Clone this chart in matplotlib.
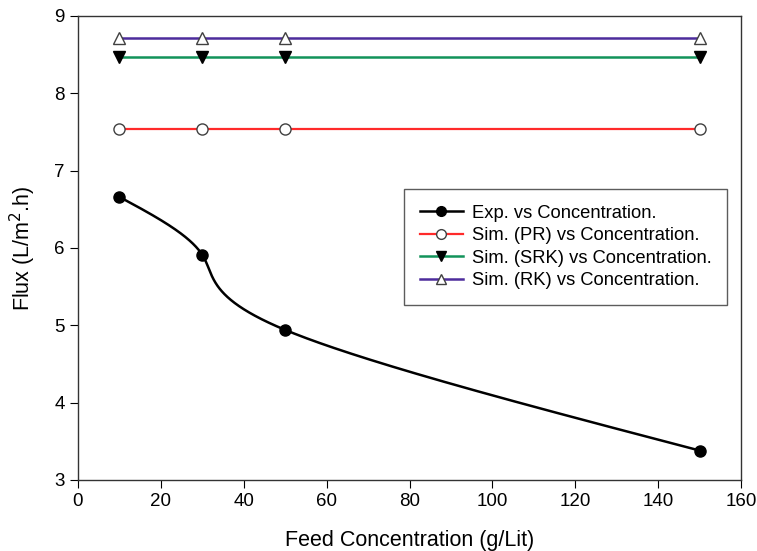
import matplotlib.pyplot as plt
import numpy as np

plt.rcParams['font.family'] = ['Liberation Sans', 'DejaVu Sans']

# Feed concentration (g/Lit) and flux values
conc = [10, 30, 50, 150]
flux_exp = [6.66, 5.91, 4.94, 3.38]
flux_pr = [7.54, 7.54, 7.54, 7.54]
flux_srk = [8.475, 8.475, 8.475, 8.475]
flux_rk = [8.72, 8.72, 8.72, 8.72]


def natural_spline(t, v, tt):
    # natural cubic spline of v(t), evaluated at tt
    t = np.asarray(t, float)
    v = np.asarray(v, float)
    n = len(t)
    h = np.diff(t)
    A = np.zeros((n, n))
    b = np.zeros(n)
    A[0, 0] = A[-1, -1] = 1
    for i in range(1, n - 1):
        A[i, i - 1] = h[i - 1]
        A[i, i] = 2 * (h[i - 1] + h[i])
        A[i, i + 1] = h[i]
        b[i] = 6 * ((v[i + 1] - v[i]) / h[i] - (v[i] - v[i - 1]) / h[i - 1])
    M = np.linalg.solve(A, b)
    out = np.empty_like(tt)
    for k, x in enumerate(tt):
        i = min(np.searchsorted(t, x, side='right') - 1, n - 2)
        a = t[i + 1] - x
        c = x - t[i]
        out[k] = (M[i] * a**3 + M[i + 1] * c**3) / (6 * h[i]) \
            + (v[i] / h[i] - M[i] * h[i] / 6) * a \
            + (v[i + 1] / h[i] - M[i + 1] * h[i] / 6) * c
    return out


# parametric spline through the experimental points
t = np.arange(len(conc))
tt = np.linspace(0, len(conc) - 1, 400)
xs = natural_spline(t, conc, tt)
ys = natural_spline(t, flux_exp, tt)

fig = plt.figure(figsize=(7.57, 5.51), dpi=100)
ax = fig.add_axes([0.103, 0.129, 0.876, 0.842])

red = '#ff2a2a'
green = '#12935a'
purple = '#4d2c9c'

ms = 8
ax.plot(xs, ys, color='black', lw=1.8)
ax.plot(conc, flux_exp, 'o', color='black', ms=ms)
ax.plot(conc, flux_pr, '-o', color=red, lw=1.6, ms=ms,
        mfc='white', mec='#404040', mew=1)
ax.plot(conc, flux_srk, '-v', color=green, lw=1.8, ms=ms,
        mfc='black', mec='black')
ax.plot(conc, flux_rk, '-^', color=purple, lw=1.8, ms=ms,
        mfc='white', mec='#404040', mew=1)

# legend handles
h_exp, = ax.plot([], [], '-o', color='black', lw=1.8, ms=7)
h_pr, = ax.plot([], [], '-o', color=red, lw=1.6, ms=7,
                mfc='white', mec='#404040', mew=1)
h_srk, = ax.plot([], [], '-v', color=green, lw=1.8, ms=7,
                 mfc='black', mec='black')
h_rk, = ax.plot([], [], '-^', color=purple, lw=1.8, ms=7,
                mfc='white', mec='#404040', mew=1)
leg = ax.legend([h_exp, h_pr, h_srk, h_rk],
                ['Exp. vs Concentration.', 'Sim. (PR) vs Concentration.',
                 'Sim. (SRK) vs Concentration.', 'Sim. (RK) vs Concentration.'],
                loc='upper left', bbox_to_anchor=(0.492, 0.627),
                fontsize=13.2, frameon=True, fancybox=False,
                edgecolor='#333333', handlelength=2.35, handletextpad=0.5,
                labelspacing=0.3, borderpad=0.85, borderaxespad=0)
leg.get_frame().set_linewidth(1)

ax.set_xlim(0, 160)
ax.set_ylim(3, 9)
ax.set_xticks(range(0, 161, 20))
ax.set_yticks(range(3, 10))
ax.tick_params(direction='out', length=6, labelsize=13.5, top=False, right=False)
for s in ax.spines.values():
    s.set_linewidth(1)
    s.set_color('#333333')

ax.set_xlabel('Feed Concentration (g/Lit)', fontsize=15.5, labelpad=14)
ax.set_ylabel('Flux (L/m$^2$.h)', fontsize=15.5, labelpad=12)

fig.savefig('out.png', dpi=100)
